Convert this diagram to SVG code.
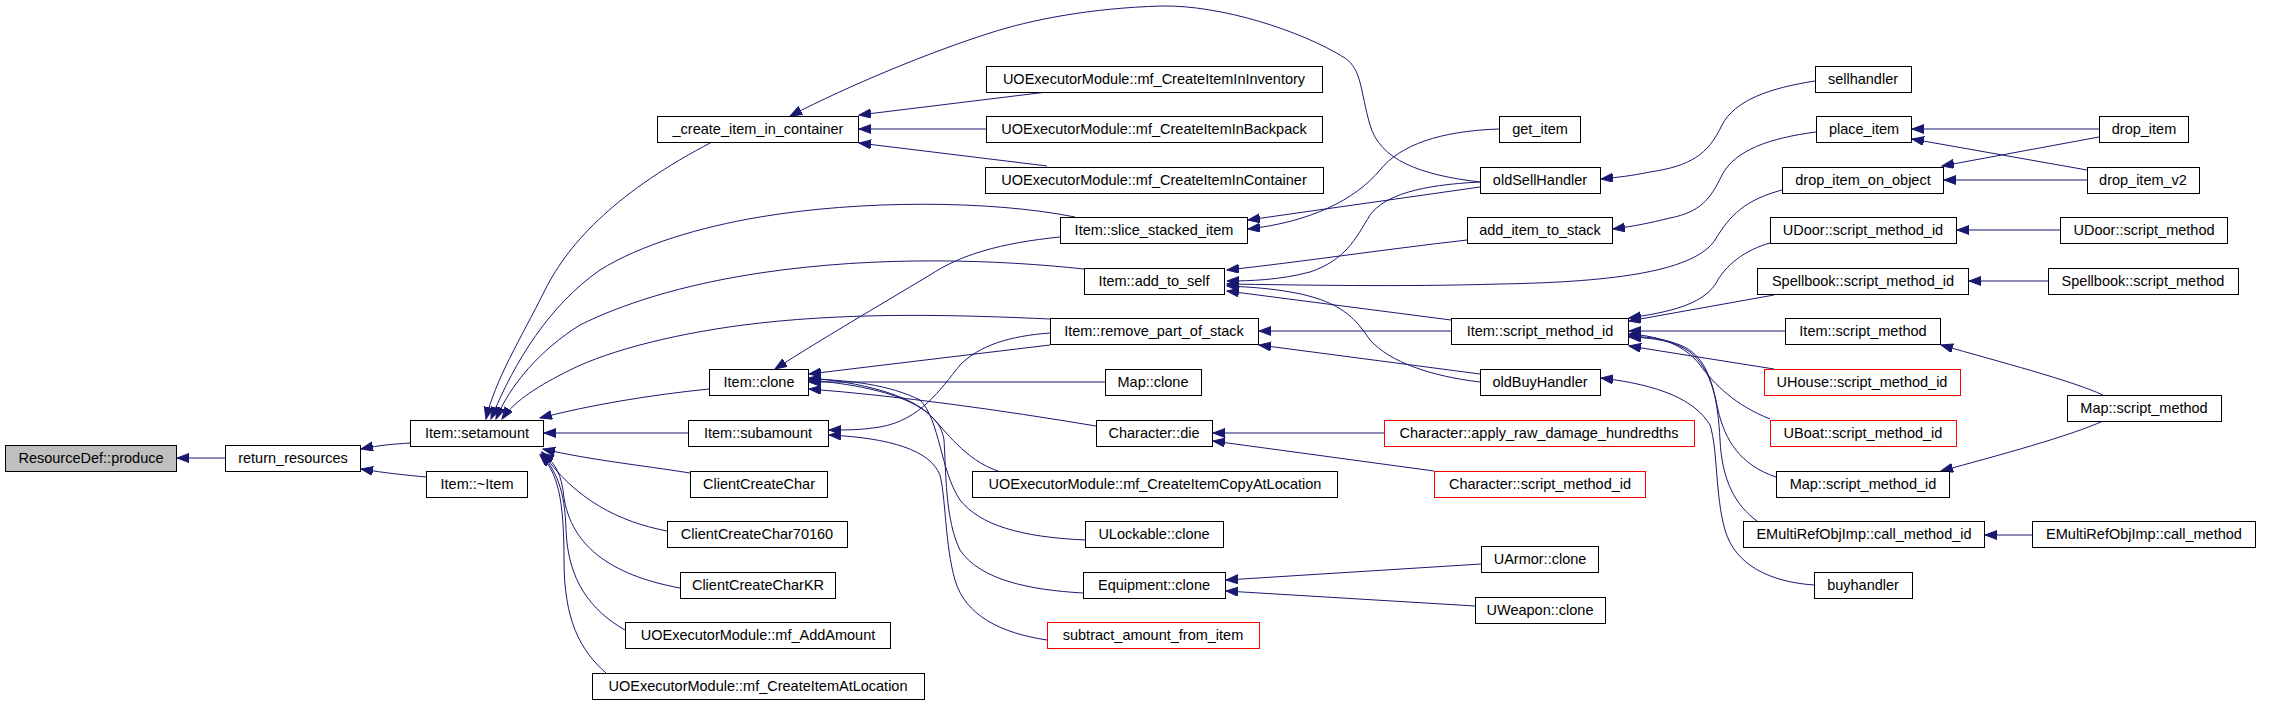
<svg xmlns="http://www.w3.org/2000/svg" width="2269" height="705" viewBox="0 0 2269 705">
<style>
.n rect{fill:#fff;stroke:#000;stroke-width:1}
.r rect{stroke:#f00}
.g rect{fill:#bfbfbf}
.n text{font-family:"Liberation Sans",Arial,sans-serif;font-size:14.5px;text-anchor:middle;fill:#000}
#edges path{fill:none;stroke:#191970;stroke-width:1;marker-end:url(#a)}
</style>
<defs>
<marker id="a" markerUnits="userSpaceOnUse" markerWidth="13" markerHeight="10" refX="12" refY="4.5" orient="auto">
<path d="M0,0 L12,4.5 L0,9 Z" fill="#191970" stroke="#191970" stroke-width="1"/>
</marker>
</defs>
<rect width="2269" height="705" fill="#fff"/>
<g id="edges">
<path d="M225,458 L177,458"/>
<path d="M410,443 C395,444 380,445 361,449"/>
<path d="M426,477 C405,475 385,473 361,469"/>
<path d="M709,389 C650,395 590,405 540,418"/>
<path d="M688,433 L544,433"/>
<path d="M690,473 C640,465 590,460 543,449"/>
<path d="M667,531 C620,522 575,500 542,452"/>
<path d="M680,588 C610,575 568,545 563,490 C560,470 552,460 542,453"/>
<path d="M625,630 C590,610 568,580 566,530 C565,490 556,470 541,454"/>
<path d="M606,673 C580,650 564,620 564,560 C564,500 558,472 540,455"/>
<path d="M712,142 C620,190 570,240 545,290 C520,340 495,380 486,419"/>
<path d="M1075,217 C990,200 860,200 760,217 C700,227 640,245 600,270 C550,305 515,360 491,419"/>
<path d="M1084,269 C1000,260 880,255 760,273 C680,285 620,305 580,325 C540,350 510,385 496,419"/>
<path d="M1050,319 C960,315 860,312 760,323 C680,332 610,350 570,370 C540,385 515,400 502,419"/>
<path d="M1047,92 L859,115"/>
<path d="M986,129 L859,129"/>
<path d="M1047,166 L859,143"/>
<path d="M1480,182 C1420,175 1380,160 1370,125 C1360,90 1362,70 1345,58 C1300,30 1220,5 1162,6 C1090,8 1030,20 990,33 C930,52 850,85 790,116"/>
<path d="M1480,187 L1248,220"/>
<path d="M1499,129 C1440,131 1400,145 1380,170 C1355,200 1310,222 1248,229"/>
<path d="M1060,237 C1000,243 960,255 930,275 C880,305 820,340 775,369"/>
<path d="M1467,240 C1380,250 1300,262 1227,270"/>
<path d="M1480,182 C1420,185 1385,195 1370,215 C1355,240 1345,260 1310,272 C1280,280 1250,281 1227,281"/>
<path d="M1782,190 C1745,200 1730,215 1715,240 C1695,270 1620,282 1500,284 C1400,287 1300,285 1227,284"/>
<path d="M1451,320 L1227,291"/>
<path d="M1480,382 C1430,376 1390,362 1370,340 C1350,310 1330,290 1227,286"/>
<path d="M1451,331 L1259,331"/>
<path d="M1480,374 L1259,345"/>
<path d="M1050,345 L809,374"/>
<path d="M1105,382 L809,382"/>
<path d="M1096,426 C1000,410 900,396 809,389"/>
<path d="M998,471 C965,460 945,430 930,415 C910,395 860,382 809,378"/>
<path d="M1085,540 C1020,537 980,525 960,500 C940,470 940,420 920,400 C890,385 850,380 809,379"/>
<path d="M1083,593 C1030,590 980,580 960,550 C945,520 946,470 944,440 C940,410 900,388 809,380"/>
<path d="M1050,333 C1010,336 980,345 960,365 C940,390 920,420 880,427 C860,430 850,430 829,430"/>
<path d="M1047,640 C1000,633 965,615 955,580 C945,545 946,500 940,475 C930,450 890,438 829,435"/>
<path d="M1384,433 L1213,433"/>
<path d="M1434,471 L1213,441"/>
<path d="M1481,564 L1226,580"/>
<path d="M1475,606 L1226,591"/>
<path d="M1770,243 C1745,250 1725,265 1715,285 C1700,305 1670,312 1629,318"/>
<path d="M1774,295 L1629,321"/>
<path d="M1785,331 L1629,331"/>
<path d="M1774,369 L1629,346"/>
<path d="M1770,419 C1735,405 1715,385 1700,365 C1685,345 1660,336 1629,334"/>
<path d="M1776,477 C1740,465 1725,440 1718,410 C1712,380 1705,355 1680,345 C1665,339 1650,337 1629,336"/>
<path d="M1757,521 C1735,505 1722,480 1720,440 C1718,400 1712,370 1690,352 C1675,341 1655,338 1629,337"/>
<path d="M1814,585 C1770,582 1735,565 1725,530 C1715,495 1718,450 1710,425 C1695,400 1660,385 1601,378"/>
<path d="M1815,81 C1770,88 1735,100 1722,125 C1708,155 1690,166 1650,172 C1630,176 1620,177 1601,179"/>
<path d="M1816,132 C1770,138 1735,150 1722,175 C1710,200 1700,212 1670,218 C1650,223 1635,226 1613,229"/>
<path d="M2099,129 L1912,129"/>
<path d="M2087,170 L1912,139"/>
<path d="M2099,137 L1942,166"/>
<path d="M2087,180 L1944,180"/>
<path d="M2060,230 L1957,230"/>
<path d="M2048,281 L1969,281"/>
<path d="M2103,395 C2070,380 2000,362 1941,345"/>
<path d="M2103,421 C2070,436 2000,455 1941,471"/>
<path d="M2032,535 L1985,535"/>
</g>
<g id="n1" class="n g"><rect x="5.5" y="445.5" width="171" height="26"/><text x="91" y="463">ResourceDef::produce</text></g>
<g id="n2" class="n"><rect x="225.5" y="445.5" width="135" height="26"/><text x="293" y="463">return_resources</text></g>
<g id="n3" class="n"><rect x="410.5" y="420.5" width="133" height="26"/><text x="477" y="438">Item::setamount</text></g>
<g id="n4" class="n"><rect x="426.5" y="471.5" width="101" height="26"/><text x="477" y="489">Item::~Item</text></g>
<g id="n5" class="n"><rect x="657.5" y="116.5" width="201" height="26"/><text x="758" y="134">_create_item_in_container</text></g>
<g id="n6" class="n"><rect x="709.5" y="369.5" width="99" height="26"/><text x="759" y="387">Item::clone</text></g>
<g id="n7" class="n"><rect x="688.5" y="420.5" width="140" height="26"/><text x="758" y="438">Item::subamount</text></g>
<g id="n8" class="n"><rect x="690.5" y="471.5" width="137" height="26"/><text x="759" y="489">ClientCreateChar</text></g>
<g id="n9" class="n"><rect x="667.5" y="521.5" width="180" height="26"/><text x="757" y="539">ClientCreateChar70160</text></g>
<g id="n10" class="n"><rect x="680.5" y="572.5" width="155" height="26"/><text x="758" y="590">ClientCreateCharKR</text></g>
<g id="n11" class="n"><rect x="625.5" y="622.5" width="265" height="26"/><text x="758" y="640">UOExecutorModule::mf_AddAmount</text></g>
<g id="n12" class="n"><rect x="592.5" y="673.5" width="332" height="26"/><text x="758" y="691">UOExecutorModule::mf_CreateItemAtLocation</text></g>
<g id="n13" class="n"><rect x="986.5" y="66.5" width="336" height="26"/><text x="1154" y="84">UOExecutorModule::mf_CreateItemInInventory</text></g>
<g id="n14" class="n"><rect x="986.5" y="116.5" width="336" height="26"/><text x="1154" y="134">UOExecutorModule::mf_CreateItemInBackpack</text></g>
<g id="n15" class="n"><rect x="985.5" y="167.5" width="338" height="26"/><text x="1154" y="185">UOExecutorModule::mf_CreateItemInContainer</text></g>
<g id="n16" class="n"><rect x="1060.5" y="217.5" width="187" height="26"/><text x="1154" y="235">Item::slice_stacked_item</text></g>
<g id="n17" class="n"><rect x="1084.5" y="268.5" width="140" height="26"/><text x="1154" y="286">Item::add_to_self</text></g>
<g id="n18" class="n"><rect x="1050.5" y="318.5" width="208" height="26"/><text x="1154" y="336">Item::remove_part_of_stack</text></g>
<g id="n19" class="n"><rect x="1105.5" y="369.5" width="96" height="26"/><text x="1153" y="387">Map::clone</text></g>
<g id="n20" class="n"><rect x="1096.5" y="420.5" width="116" height="26"/><text x="1154" y="438">Character::die</text></g>
<g id="n21" class="n"><rect x="972.5" y="471.5" width="365" height="26"/><text x="1155" y="489">UOExecutorModule::mf_CreateItemCopyAtLocation</text></g>
<g id="n22" class="n"><rect x="1085.5" y="521.5" width="138" height="26"/><text x="1154" y="539">ULockable::clone</text></g>
<g id="n23" class="n"><rect x="1083.5" y="572.5" width="142" height="26"/><text x="1154" y="590">Equipment::clone</text></g>
<g id="n24" class="n r"><rect x="1047.5" y="622.5" width="212" height="26"/><text x="1153" y="640">subtract_amount_from_item</text></g>
<g id="n25" class="n"><rect x="1499.5" y="116.5" width="81" height="26"/><text x="1540" y="134">get_item</text></g>
<g id="n26" class="n"><rect x="1480.5" y="167.5" width="120" height="26"/><text x="1540" y="185">oldSellHandler</text></g>
<g id="n27" class="n"><rect x="1467.5" y="217.5" width="145" height="26"/><text x="1540" y="235">add_item_to_stack</text></g>
<g id="n28" class="n"><rect x="1451.5" y="318.5" width="177" height="26"/><text x="1540" y="336">Item::script_method_id</text></g>
<g id="n29" class="n"><rect x="1480.5" y="369.5" width="120" height="26"/><text x="1540" y="387">oldBuyHandler</text></g>
<g id="n30" class="n r"><rect x="1384.5" y="420.5" width="310" height="26"/><text x="1539" y="438">Character::apply_raw_damage_hundredths</text></g>
<g id="n31" class="n r"><rect x="1434.5" y="471.5" width="211" height="26"/><text x="1540" y="489">Character::script_method_id</text></g>
<g id="n32" class="n"><rect x="1481.5" y="546.5" width="117" height="26"/><text x="1540" y="564">UArmor::clone</text></g>
<g id="n33" class="n"><rect x="1475.5" y="597.5" width="130" height="26"/><text x="1540" y="615">UWeapon::clone</text></g>
<g id="n34" class="n"><rect x="1815.5" y="66.5" width="96" height="26"/><text x="1863" y="84">sellhandler</text></g>
<g id="n35" class="n"><rect x="1816.5" y="116.5" width="95" height="26"/><text x="1864" y="134">place_item</text></g>
<g id="n36" class="n"><rect x="1782.5" y="167.5" width="161" height="26"/><text x="1863" y="185">drop_item_on_object</text></g>
<g id="n37" class="n"><rect x="1770.5" y="217.5" width="186" height="26"/><text x="1863" y="235">UDoor::script_method_id</text></g>
<g id="n38" class="n"><rect x="1757.5" y="268.5" width="211" height="26"/><text x="1863" y="286">Spellbook::script_method_id</text></g>
<g id="n39" class="n"><rect x="1785.5" y="318.5" width="155" height="26"/><text x="1863" y="336">Item::script_method</text></g>
<g id="n40" class="n r"><rect x="1764.5" y="369.5" width="196" height="26"/><text x="1862" y="387">UHouse::script_method_id</text></g>
<g id="n41" class="n r"><rect x="1770.5" y="420.5" width="186" height="26"/><text x="1863" y="438">UBoat::script_method_id</text></g>
<g id="n42" class="n"><rect x="1776.5" y="471.5" width="173" height="26"/><text x="1863" y="489">Map::script_method_id</text></g>
<g id="n43" class="n"><rect x="1743.5" y="521.5" width="241" height="26"/><text x="1864" y="539">EMultiRefObjImp::call_method_id</text></g>
<g id="n44" class="n"><rect x="1814.5" y="572.5" width="98" height="26"/><text x="1863" y="590">buyhandler</text></g>
<g id="n45" class="n"><rect x="2099.5" y="116.5" width="89" height="26"/><text x="2144" y="134">drop_item</text></g>
<g id="n46" class="n"><rect x="2087.5" y="167.5" width="112" height="26"/><text x="2143" y="185">drop_item_v2</text></g>
<g id="n47" class="n"><rect x="2060.5" y="217.5" width="167" height="26"/><text x="2144" y="235">UDoor::script_method</text></g>
<g id="n48" class="n"><rect x="2048.5" y="268.5" width="190" height="26"/><text x="2143" y="286">Spellbook::script_method</text></g>
<g id="n49" class="n"><rect x="2067.5" y="395.5" width="154" height="26"/><text x="2144" y="413">Map::script_method</text></g>
<g id="n50" class="n"><rect x="2032.5" y="521.5" width="223" height="26"/><text x="2144" y="539">EMultiRefObjImp::call_method</text></g>
</svg>
